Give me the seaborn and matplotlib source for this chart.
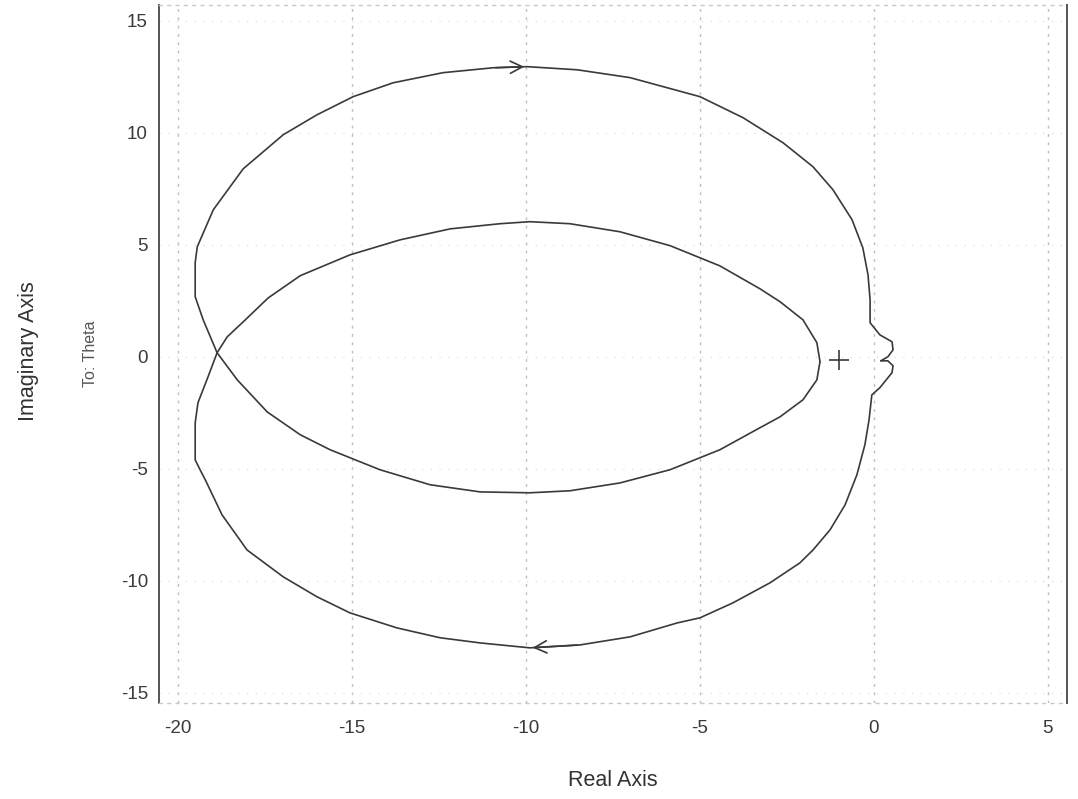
import matplotlib
matplotlib.use("Agg")
import matplotlib.pyplot as plt
import seaborn as sns
import pandas as pd

# ---- data (Real, Imag) ----
# branch A: tip of inner loop -> inner lower arc -> crossing -> outer upper arc -> right side -> wiggle
branch_a_re = [-1.55, -1.64, -2.04, -2.70, -3.28, -4.43, -5.86, -7.30, -8.74, -9.89,
               -11.32, -12.76, -14.20, -15.63, -16.49, -17.44, -18.30, -18.88, -19.28, -19.51,
               -19.51, -19.45, -18.99, -18.13, -16.98, -16.01, -14.97, -13.82, -12.39, -10.95,
               -9.97, -8.53, -7.01, -5.00, -3.76, -2.61, -1.75, -1.18, -0.63, -0.32,
               -0.17, -0.11, -0.11, 0.17, 0.52, 0.55, 0.40, 0.20]
branch_a_im = [-0.22, -1.03, -1.92, -2.68, -3.17, -4.15, -5.04, -5.63, -5.98, -6.07,
               -6.03, -5.71, -5.04, -4.15, -3.48, -2.46, -1.03, 0.18, 1.65, 2.68,
               4.20, 4.91, 6.56, 8.39, 9.91, 10.80, 11.61, 12.23, 12.68, 12.90,
               12.95, 12.81, 12.46, 11.61, 10.67, 9.55, 8.48, 7.46, 6.12, 4.87,
               3.66, 2.54, 1.52, 0.98, 0.67, 0.31, 0.00, -0.18]

# branch B: tip of inner loop -> inner upper arc -> crossing -> outer lower arc -> right side -> wiggle
branch_b_re = [-1.55, -1.64, -2.04, -2.70, -3.28, -4.43, -5.86, -7.30, -8.74, -9.89,
               -10.75, -12.18, -13.62, -15.06, -16.49, -17.41, -18.13, -18.59, -18.88, -19.14,
               -19.43, -19.51, -19.51, -19.37, -19.22, -18.74, -18.02, -16.98, -16.01, -15.06,
               -13.71, -12.47, -11.32, -9.89, -8.45, -7.01, -5.66, -5.00, -4.05, -2.99,
               -2.13, -1.75, -1.26, -0.83, -0.49, -0.26, -0.14, -0.06, 0.17, 0.52,
               0.55, 0.40, 0.20]
branch_b_im = [-0.22, 0.63, 1.65, 2.46, 3.04, 4.06, 4.96, 5.58, 5.94, 6.03,
               5.94, 5.71, 5.22, 4.55, 3.62, 2.63, 1.56, 0.89, 0.18, -0.89,
               -2.05, -2.95, -4.60, -5.04, -5.49, -7.05, -8.62, -9.82, -10.71, -11.43,
               -12.10, -12.54, -12.77, -12.99, -12.86, -12.50, -11.88, -11.65, -10.98, -10.09,
               -9.20, -8.62, -7.72, -6.61, -5.27, -3.93, -2.81, -1.70, -1.38, -0.71,
               -0.40, -0.18, -0.18]

critical_point = (-1.0, -0.15)

x_ticks = [-20, -15, -10, -5, 0, 5]
y_ticks = [-15, -10, -5, 0, 5, 10, 15]
x_label = "Real Axis"
y_label = "Imaginary Axis"
y_sublabel = "To: Theta"

# ---- plot ----
sns.set_theme(style="white")
plt.rcParams["font.family"] = ["Liberation Sans", "DejaVu Sans"]
plt.rcParams["axes.unicode_minus"] = False

fig = plt.figure(figsize=(10.78, 7.99), dpi=100)
ax = fig.add_axes([0.1475, 0.1202, 0.8423, 0.8735])

line_color = "#3a3a3a"
df_a = pd.DataFrame({"re": branch_a_re, "im": branch_a_im})
df_b = pd.DataFrame({"re": branch_b_re, "im": branch_b_im})
sns.lineplot(data=df_a, x="re", y="im", sort=False, estimator=None, ax=ax,
             color=line_color, lw=1.2)
sns.lineplot(data=df_b, x="re", y="im", sort=False, estimator=None, ax=ax,
             color=line_color, lw=1.2)

# direction arrows (top: rightwards, bottom: leftwards)
i_top = branch_a_im.index(max(branch_a_im))
ax.annotate("", xy=(branch_a_re[i_top], branch_a_im[i_top]),
            xytext=(branch_a_re[i_top - 1], branch_a_im[i_top - 1]),
            arrowprops=dict(arrowstyle="->", color=line_color, lw=1.2,
                            mutation_scale=22))
i_bot = branch_b_im.index(min(branch_b_im))
ax.annotate("", xy=(branch_b_re[i_bot], branch_b_im[i_bot]),
            xytext=(branch_b_re[i_bot + 1], branch_b_im[i_bot + 1]),
            arrowprops=dict(arrowstyle="->", color=line_color, lw=1.2,
                            mutation_scale=22))

# critical point marker
ax.plot([critical_point[0]], [critical_point[1]], marker="+", color=line_color,
        markersize=14, mew=1.2, linestyle="none")

ax.set_xlim(-20.55, 5.55)
ax.set_ylim(-15.45, 15.7)
ax.set_xticks(x_ticks)
ax.set_yticks(y_ticks)
ax.tick_params(axis="both", direction="in", length=4, width=1, colors="#555555",
               labelcolor="#3a3a3a", labelsize=13.5)
ax.tick_params(axis="x", pad=12)
ax.tick_params(axis="y", pad=8)

ax.xaxis.grid(True, linestyle=(0, (2, 4)), color="#bdbdbd", lw=1.0)
ax.yaxis.grid(True, linestyle=(0, (1, 6)), color="#dddddd", lw=0.9)

for side in ["left", "right"]:
    ax.spines[side].set_color("#555555")
    ax.spines[side].set_linewidth(1.4)
for side in ["top", "bottom"]:
    ax.spines[side].set_color("#c8c8c8")
    ax.spines[side].set_linewidth(1.0)
    ax.spines[side].set_linestyle((0, (2, 4)))

ax.set_xlabel(x_label, fontsize=15.5, color="#333333", labelpad=24)
ax.set_ylabel("")
fig.text(0.026, 0.56, y_label, rotation=90, fontsize=15.5, color="#333333",
         ha="center", va="center")
fig.text(0.084, 0.557, y_sublabel, rotation=90, fontsize=11.5, color="#555555",
         ha="center", va="center")

fig.savefig("out.png", dpi=100)
